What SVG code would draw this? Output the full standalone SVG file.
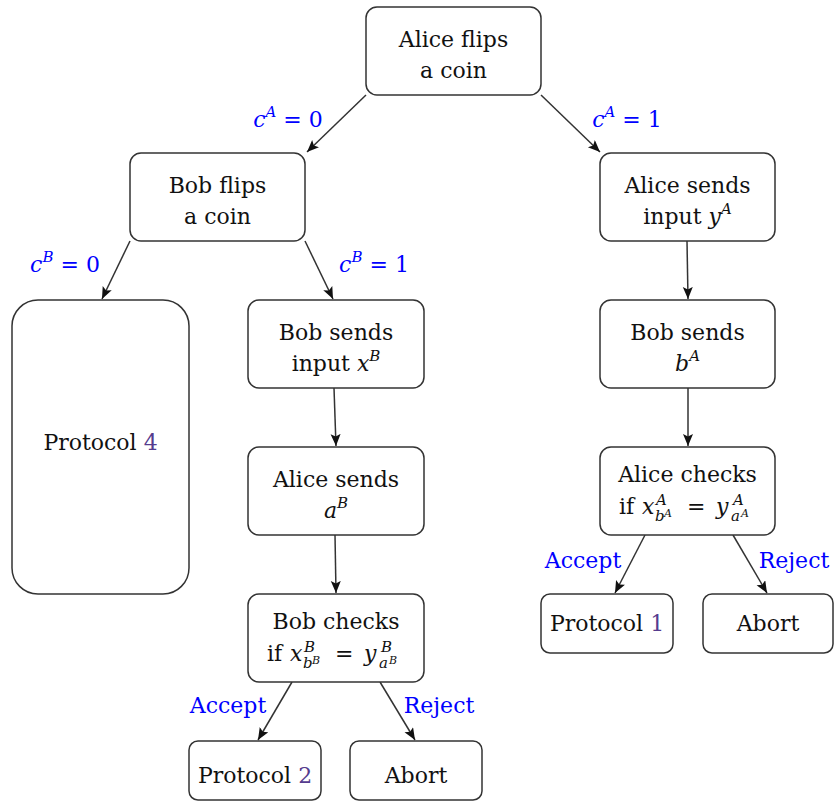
<svg xmlns="http://www.w3.org/2000/svg" width="834" height="802" viewBox="0 0 834 802">
<defs>
<style>
.t{font-family:"DejaVu Serif","Liberation Serif",serif;font-size:22px;fill:#111}
.m{font-family:"DejaVu Serif","Liberation Serif",serif;font-size:22px;fill:#0000ff}
.n{fill:#fff;stroke:#333;stroke-width:1.5}
.i{font-style:italic}
.s{font-size:15px;font-style:italic}
.u{font-size:15px;font-style:italic}
.uu{font-size:11px;font-style:italic}
.p{fill:#553b8e}
.e{stroke:#333;stroke-width:1.5;fill:none;marker-end:url(#ah)}
</style>
<marker id="ah" markerUnits="userSpaceOnUse" markerWidth="14" markerHeight="12" refX="12" refY="5" orient="auto">
<path d="M0,0 L12,5 L0,10 L2.5,5 Z" fill="#111"/>
</marker>
</defs>
<g id="connectors">
<line class="e" x1="366" y1="95" x2="307" y2="152"/>
<line class="e" x1="541" y1="95" x2="600" y2="152"/>
<line class="e" x1="130" y1="241" x2="102" y2="299"/>
<line class="e" x1="305" y1="241" x2="333" y2="299"/>
<line class="e" x1="687" y1="241" x2="688" y2="299"/>
<line class="e" x1="688" y1="388" x2="688" y2="446"/>
<line class="e" x1="334" y1="388" x2="336" y2="446"/>
<line class="e" x1="335" y1="535" x2="336" y2="593"/>
<line class="e" x1="645" y1="535" x2="615" y2="593"/>
<line class="e" x1="733" y1="535" x2="767" y2="593"/>
<line class="e" x1="292" y1="682" x2="258" y2="740"/>
<line class="e" x1="380" y1="682" x2="415" y2="740"/>
<text class="m" x="288" y="127" text-anchor="middle"><tspan class="i">c</tspan><tspan class="s" dy="-10">A</tspan><tspan dy="10"> = 0</tspan></text>
<text class="m" x="627" y="127" text-anchor="middle"><tspan class="i">c</tspan><tspan class="s" dy="-10">A</tspan><tspan dy="10"> = 1</tspan></text>
<text class="m" x="65" y="272" text-anchor="middle"><tspan class="i">c</tspan><tspan class="s" dy="-10">B</tspan><tspan dy="10"> = 0</tspan></text>
<text class="m" x="374" y="272" text-anchor="middle"><tspan class="i">c</tspan><tspan class="s" dy="-10">B</tspan><tspan dy="10"> = 1</tspan></text>
<text class="m" x="583" y="568" text-anchor="middle">Accept</text>
<text class="m" x="794" y="568" text-anchor="middle">Reject</text>
<text class="m" x="228" y="713" text-anchor="middle">Accept</text>
<text class="m" x="439" y="713" text-anchor="middle">Reject</text>
</g>
<g id="alice-flips">
<rect class="n" x="366" y="7" width="175" height="88" rx="11"/>
<text class="t" x="453.5" y="47" text-anchor="middle">Alice flips</text>
<text class="t" x="453.5" y="78" text-anchor="middle">a coin</text>
</g>
<g id="bob-flips">
<rect class="n" x="130" y="153" width="175" height="88" rx="11"/>
<text class="t" x="217.5" y="193" text-anchor="middle">Bob flips</text>
<text class="t" x="217.5" y="224" text-anchor="middle">a coin</text>
</g>
<g id="alice-sends-input">
<rect class="n" x="600" y="153" width="175" height="88" rx="11"/>
<text class="t" x="687.5" y="193" text-anchor="middle">Alice sends</text>
<text class="t" x="687.5" y="224" text-anchor="middle">input <tspan class="i">y</tspan><tspan class="s" dy="-10">A</tspan></text>
</g>
<g id="protocol-4">
<rect class="n" x="12" y="300" width="177" height="294" rx="26"/>
<text class="t" x="100.5" y="450" text-anchor="middle">Protocol <tspan class="p">4</tspan></text>
</g>
<g id="bob-sends-input">
<rect class="n" x="248" y="300" width="176" height="88" rx="11"/>
<text class="t" x="336" y="340" text-anchor="middle">Bob sends</text>
<text class="t" x="336" y="371" text-anchor="middle">input <tspan class="i">x</tspan><tspan class="s" dy="-10">B</tspan></text>
</g>
<g id="bob-sends-b">
<rect class="n" x="600" y="300" width="175" height="88" rx="11"/>
<text class="t" x="687.5" y="340" text-anchor="middle">Bob sends</text>
<text class="t" x="687.5" y="371" text-anchor="middle"><tspan class="i">b</tspan><tspan class="s" dy="-10">A</tspan></text>
</g>
<g id="alice-sends-a">
<rect class="n" x="248" y="447" width="176" height="88" rx="11"/>
<text class="t" x="336" y="487" text-anchor="middle">Alice sends</text>
<text class="t" x="336" y="518" text-anchor="middle"><tspan class="i">a</tspan><tspan class="s" dy="-10">B</tspan></text>
</g>
<g id="alice-checks">
<rect class="n" x="600" y="447" width="175" height="88" rx="11"/>
<text class="t" x="687.5" y="482" text-anchor="middle">Alice checks</text>
<text class="t" x="619" y="514">if</text>
<text class="t i" x="642" y="514">x</text>
<text class="t u" x="656" y="505">A</text>
<text class="t u" x="655" y="521">b</text>
<text class="t uu" x="664" y="517">A</text>
<text class="t" x="687" y="514">=</text>
<text class="t i" x="716" y="514">y</text>
<text class="t u" x="733" y="505">A</text>
<text class="t u" x="731" y="521">a</text>
<text class="t uu" x="741" y="517">A</text>
</g>
<g id="bob-checks">
<rect class="n" x="248" y="594" width="176" height="88" rx="11"/>
<text class="t" x="336" y="629" text-anchor="middle">Bob checks</text>
<text class="t" x="267" y="661">if</text>
<text class="t i" x="290" y="661">x</text>
<text class="t u" x="304" y="652">B</text>
<text class="t u" x="303" y="668">b</text>
<text class="t uu" x="312" y="664">B</text>
<text class="t" x="335" y="661">=</text>
<text class="t i" x="364" y="661">y</text>
<text class="t u" x="381" y="652">B</text>
<text class="t u" x="379" y="668">a</text>
<text class="t uu" x="389" y="664">B</text>
</g>
<g id="protocol-1">
<rect class="n" x="541" y="594" width="132" height="59" rx="9"/>
<text class="t" x="607" y="631" text-anchor="middle">Protocol <tspan class="p">1</tspan></text>
</g>
<g id="abort-right">
<rect class="n" x="703" y="594" width="130" height="59" rx="9"/>
<text class="t" x="768" y="631" text-anchor="middle">Abort</text>
</g>
<g id="protocol-2">
<rect class="n" x="189" y="741" width="132" height="59" rx="9"/>
<text class="t" x="255" y="783" text-anchor="middle">Protocol <tspan class="p">2</tspan></text>
</g>
<g id="abort-left">
<rect class="n" x="350" y="741" width="132" height="59" rx="9"/>
<text class="t" x="416" y="783" text-anchor="middle">Abort</text>
</g>
</svg>
